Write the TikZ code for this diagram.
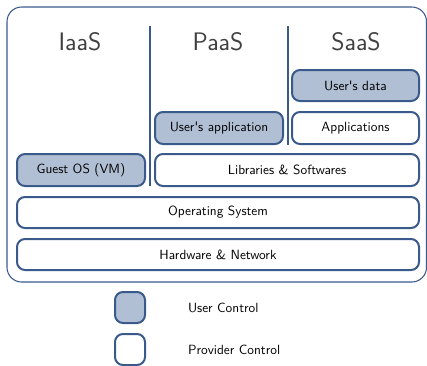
\documentclass[tikz,border=0pt]{standalone}
\usepackage{fontspec}
\begin{document}
\begin{tikzpicture}[x=0.75pt,y=-0.75pt,
  font=\sffamily,
  every node/.style={inner sep=0pt, outer sep=0pt},
  layer/.style={draw=bordc, line width=1.5pt, rounded corners=6pt, fill=white, align=center},
  userbox/.style={layer, fill=fillc},
  heading/.style={font=\sffamily\fontsize{19}{22}\selectfont, text=headc},
  divider/.style={draw=bordc, line width=1.5pt},
  legendtext/.style={anchor=west}
]
\definecolor{bordc}{HTML}{3A5A8C}
\definecolor{fillc}{HTML}{B0BFD4}
\definecolor{headc}{HTML}{404040}
\useasboundingbox (0,0) rectangle (427,365);
% outer frame
\draw[draw=bordc, line width=0.8pt, rounded corners=11pt] (7,7) rectangle (426.5,282);
% headings
\node[heading] (iaas) at (80,42) {IaaS};
\node[heading] (paas) at (218,42) {PaaS};
\node[heading] (saas) at (356,42) {SaaS};
% dividers
\coordinate (d1t) at (150,26); \coordinate (d1b) at (150,186);
\coordinate (d2t) at (288,26); \coordinate (d2b) at (288,145);
\draw[divider] (d1t) -- (d1b);
\draw[divider] (d2t) -- (d2b);
% layers
\node[userbox, minimum width=96pt, minimum height=24pt] (guest) at (81,170) {Guest OS (VM)};
\node[userbox, minimum width=96pt, minimum height=24pt] (userapp) at (219,128) {User\textquotesingle s application};
\node[userbox, minimum width=95.25pt, minimum height=23.25pt] (userdata) at (355.5,85.5) {User\textquotesingle s data};
\node[layer, minimum width=95.25pt, minimum height=24pt] (apps) at (355.5,128) {Applications};
\node[layer, minimum width=198pt, minimum height=24pt] (libs) at (287,170) {Libraries \& Softwares};
\node[layer, minimum width=301.5pt, minimum height=23.25pt] (os) at (218,212.5) {Operating System};
\node[layer, minimum width=301.5pt, minimum height=23.25pt] (hw) at (218,254.5) {Hardware \& Network};
% legend
\node[userbox, minimum width=22.5pt, minimum height=23.25pt] (lu) at (130,307.5) {};
\node[layer, minimum width=22.5pt, minimum height=23.25pt] (lp) at (130,349.5) {};
\node[legendtext] (lut) at (188,308) {User Control};
\node[legendtext] (lpt) at (188,350) {Provider Control};
\end{tikzpicture}
\end{document}
